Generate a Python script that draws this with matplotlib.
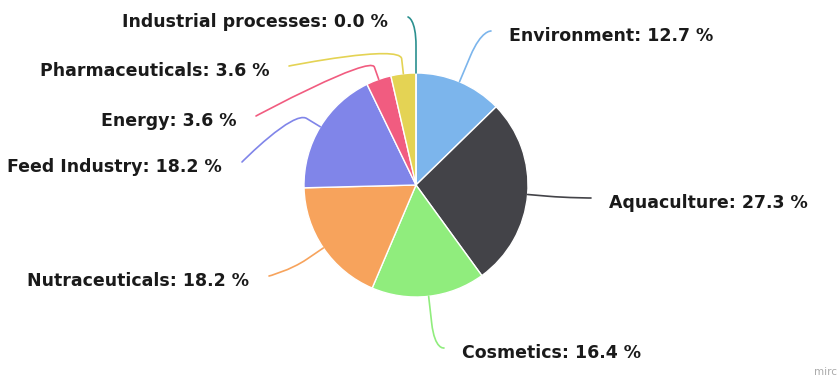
import matplotlib
matplotlib.use("Agg")
import matplotlib.pyplot as plt
from matplotlib.path import Path
from matplotlib.patches import PathPatch
import numpy as np

categories = ["Environment", "Aquaculture", "Cosmetics", "Nutraceuticals",
              "Feed Industry", "Energy", "Pharmaceuticals", "Industrial processes"]
shares = [12.7, 27.3, 16.4, 18.2, 18.2, 3.6, 3.6, 0.0]
colors = ["#7cb5ec", "#434348", "#90ed7d", "#f7a35c",
          "#8085e9", "#f15c80", "#e4d354", "#2b908f"]

# layout (pixel space, y downwards)
W, H = 838, 378
cx, cy, radius = 416, 185, 112
label_xy = [(509, 36), (609, 203), (462, 353), (249, 281),
            (222, 167), (236, 121), (269, 71), (388, 22)]
bend = [28, 20, 27, 20, 16, 13, 15, 27]

fig = plt.figure(figsize=(W / 100, H / 100), dpi=100)
ax = fig.add_axes([0, 0, 1, 1])

# y axis runs downwards, so start at -90 and go counter-clockwise in data space
ax.pie(shares, colors=colors, startangle=-90, counterclock=True,
       center=(cx, cy), radius=radius, frame=True,
       wedgeprops=dict(edgecolor="white", linewidth=1.0))
ax.set_xlim(0, W)
ax.set_ylim(H, 0)
ax.set_aspect("auto")
ax.axis("off")

total = sum(shares)
cum = np.cumsum([0] + shares[:-1])
for i, (name, val) in enumerate(zip(categories, shares)):
    mid = -90 + 360 * (cum[i] + val / 2) / total
    d = np.array([np.cos(np.radians(mid)), np.sin(np.radians(mid))])
    p = np.array([cx, cy]) + radius * d
    b = np.array([cx, cy]) + (radius + bend[i]) * d
    c = 2 * b - p
    tx, ty = label_xy[i]
    right = np.cos(np.radians(mid)) > 1e-6
    lx = tx - 18 if right else tx + 20
    l = np.array([lx, ty - 5])
    path = Path([l, l, c, b, p],
                [Path.MOVETO, Path.CURVE4, Path.CURVE4, Path.CURVE4, Path.LINETO])
    ax.add_patch(PathPatch(path, facecolor="none", edgecolor=colors[i],
                           linewidth=1.2, capstyle="round"))
    ax.text(tx, ty, f"{name}: {val:.1f} %", ha="left" if right else "right",
            va="center", fontsize=12.5, fontweight="bold", color="#1a1a1a",
            family="DejaVu Sans")

ax.text(837, 372, "mirc", ha="right", va="center", fontsize=7.5, color="#aaaaaa")

fig.savefig("out.png", dpi=100)
